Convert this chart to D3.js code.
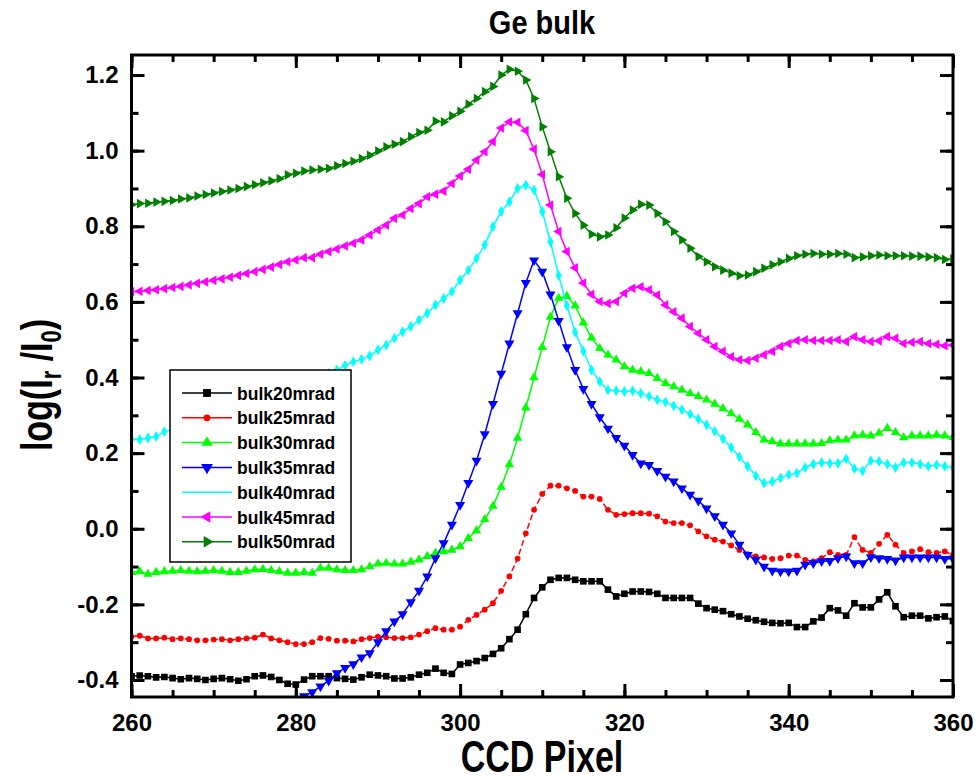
<!DOCTYPE html>
<html>
<head>
<meta charset="utf-8">
<script src="https://cdn.jsdelivr.net/npm/d3@7"></script>
<style>
  body { margin: 0; background: #fff; }
  text { font-family: "Liberation Sans", Arial, sans-serif; font-weight: bold; }
</style>
</head>
<body>
<svg id="chart" width="980" height="782"></svg>
<script>
// CCD pixel positions, one reading per pixel
const pixels = d3.range(260, 361);

const bulk20 = [
  -0.39, -0.388, -0.39, -0.393, -0.392, -0.395, -0.398, -0.395, -0.397, -0.4,
  -0.397, -0.395, -0.398, -0.402, -0.398, -0.39, -0.388, -0.392, -0.4, -0.41,
  -0.412, -0.399, -0.39, -0.39, -0.39, -0.395, -0.397, -0.399, -0.393, -0.386,
  -0.388, -0.39, -0.396, -0.396, -0.393, -0.386, -0.381, -0.37, -0.381, -0.384,
  -0.359, -0.355, -0.35, -0.342, -0.331, -0.316, -0.292, -0.267, -0.226, -0.183,
  -0.155, -0.135, -0.13, -0.13, -0.135, -0.139, -0.139, -0.139, -0.161, -0.179,
  -0.172, -0.166, -0.166, -0.167, -0.172, -0.183, -0.183, -0.183, -0.183, -0.198,
  -0.21, -0.214, -0.218, -0.226, -0.232, -0.238, -0.242, -0.246, -0.249, -0.25,
  -0.249, -0.26, -0.26, -0.245, -0.235, -0.21, -0.216, -0.23, -0.197, -0.208,
  -0.208, -0.187, -0.168, -0.205, -0.234, -0.23, -0.23, -0.237, -0.234, -0.232,
  -0.244
];
const bulk25 = [
  -0.285, -0.283, -0.29, -0.29, -0.288, -0.292, -0.29, -0.292, -0.295, -0.295,
  -0.293, -0.292, -0.295, -0.292, -0.29, -0.288, -0.28, -0.29, -0.295, -0.3,
  -0.305, -0.305, -0.3, -0.289, -0.291, -0.296, -0.296, -0.298, -0.292, -0.289,
  -0.285, -0.287, -0.289, -0.289, -0.287, -0.28, -0.271, -0.263, -0.267, -0.267,
  -0.259, -0.241, -0.228, -0.214, -0.197, -0.164, -0.126, -0.079, -0.012, 0.05,
  0.092, 0.114, 0.114, 0.107, 0.1, 0.085, 0.085, 0.079, 0.05, 0.037,
  0.039, 0.041, 0.041, 0.04, 0.033, 0.019, 0.015, 0.015, 0.009, -0.007,
  -0.02, -0.029, -0.034, -0.044, -0.056, -0.067, -0.073, -0.076, -0.08, -0.078,
  -0.071, -0.071, -0.082, -0.086, -0.078, -0.062, -0.069, -0.069, -0.022, -0.056,
  -0.064, -0.04, -0.016, -0.042, -0.064, -0.06, -0.054, -0.062, -0.064, -0.06,
  -0.069
];
const bulk30 = [
  -0.115, -0.113, -0.12, -0.115, -0.113, -0.112, -0.11, -0.112, -0.113, -0.112,
  -0.11, -0.112, -0.115, -0.115, -0.112, -0.108, -0.107, -0.11, -0.113, -0.117,
  -0.117, -0.115, -0.117, -0.104, -0.104, -0.108, -0.11, -0.11, -0.108, -0.1,
  -0.093, -0.091, -0.093, -0.093, -0.088, -0.082, -0.073, -0.064, -0.06, -0.056,
  -0.047, -0.025, -0.005, 0.025, 0.06, 0.11, 0.17, 0.24, 0.32, 0.4,
  0.48, 0.56, 0.61, 0.615, 0.59, 0.545, 0.505, 0.477, 0.46, 0.447,
  0.429, 0.42, 0.416, 0.411, 0.398, 0.385, 0.376, 0.367, 0.358, 0.35,
  0.341, 0.33, 0.318, 0.305, 0.29, 0.275, 0.255, 0.235, 0.231, 0.225,
  0.225, 0.225, 0.225, 0.225, 0.226, 0.233, 0.235, 0.235, 0.246, 0.248,
  0.246, 0.253, 0.266, 0.255, 0.241, 0.246, 0.246, 0.246, 0.248, 0.246,
  0.242
];
const bulk35 = [
  null, null, null, null, null, null, null, null, null, null,
  null, null, null, null, null, null, null, null, null, null,
  -0.452, -0.443, -0.432, -0.417, -0.402, -0.382, -0.368, -0.358, -0.34, -0.329,
  -0.3, -0.271, -0.245, -0.226, -0.194, -0.164, -0.126, -0.078, -0.038, 0.011,
  0.063, 0.121, 0.18, 0.25, 0.33, 0.41, 0.49, 0.57, 0.65, 0.71,
  0.68, 0.62, 0.55, 0.48, 0.42, 0.37, 0.33, 0.295, 0.265, 0.24,
  0.22, 0.195, 0.173, 0.169, 0.153, 0.138, 0.125, 0.107, 0.09, 0.074,
  0.054, 0.033, 0.011, -0.012, -0.042, -0.069, -0.082, -0.1, -0.111, -0.113,
  -0.113, -0.111, -0.095, -0.091, -0.086, -0.085, -0.078, -0.073, -0.091, -0.091,
  -0.075, -0.078, -0.08, -0.084, -0.076, -0.076, -0.076, -0.076, -0.076, -0.08,
  -0.079
];
const bulk40 = [
  0.236, 0.236, 0.24, 0.244, 0.257, 0.262, 0.27, 0.277, 0.284, 0.291,
  0.298, 0.305, 0.312, 0.32, 0.328, 0.336, 0.344, 0.352, 0.36, 0.368,
  0.377, 0.386, 0.395, 0.403, 0.411, 0.42, 0.432, 0.442, 0.448, 0.457,
  0.473, 0.486, 0.504, 0.521, 0.535, 0.552, 0.57, 0.592, 0.609, 0.627,
  0.658, 0.684, 0.715, 0.751, 0.799, 0.839, 0.865, 0.9, 0.909, 0.896,
  0.839, 0.759, 0.67, 0.59, 0.52, 0.47, 0.42, 0.389, 0.367, 0.365,
  0.363, 0.365, 0.358, 0.35, 0.341, 0.335, 0.325, 0.315, 0.303, 0.29,
  0.275, 0.258, 0.238, 0.215, 0.19, 0.165, 0.14, 0.121, 0.125, 0.134,
  0.143, 0.147, 0.162, 0.171, 0.175, 0.173, 0.173, 0.185, 0.159, 0.153,
  0.18, 0.178, 0.171, 0.162, 0.175, 0.175, 0.171, 0.165, 0.169, 0.165,
  0.162
];
const bulk45 = [
  0.627, 0.628, 0.63, 0.632, 0.635, 0.638, 0.641, 0.645, 0.649, 0.653,
  0.657, 0.661, 0.665, 0.67, 0.675, 0.68, 0.686, 0.692, 0.699, 0.706,
  0.711, 0.717, 0.717, 0.726, 0.733, 0.74, 0.748, 0.755, 0.764, 0.777,
  0.79, 0.803, 0.821, 0.83, 0.847, 0.86, 0.878, 0.885, 0.893, 0.913,
  0.933, 0.951, 0.975, 0.997, 1.024, 1.06, 1.076, 1.075, 1.053, 1.004,
  0.937, 0.856, 0.786, 0.733, 0.69, 0.65, 0.62, 0.601, 0.596, 0.601,
  0.623, 0.636, 0.64, 0.632, 0.618, 0.592, 0.574, 0.557, 0.535, 0.517,
  0.5, 0.482, 0.469, 0.455, 0.447, 0.445, 0.451, 0.46, 0.469, 0.482,
  0.49, 0.498, 0.5, 0.498, 0.498, 0.498, 0.5, 0.495, 0.508, 0.5,
  0.495, 0.497, 0.508, 0.504, 0.49, 0.493, 0.495, 0.49, 0.488, 0.484,
  0.486
];
const bulk50 = [
  0.857, 0.86, 0.861, 0.864, 0.866, 0.868, 0.872, 0.875, 0.88, 0.884,
  0.888, 0.892, 0.896, 0.9, 0.905, 0.91, 0.915, 0.92, 0.926, 0.936,
  0.94, 0.946, 0.949, 0.951, 0.953, 0.96, 0.966, 0.972, 0.979, 0.988,
  0.999, 1.01, 1.017, 1.024, 1.037, 1.048, 1.054, 1.078, 1.076, 1.092,
  1.104, 1.123, 1.138, 1.156, 1.17, 1.2, 1.215, 1.21, 1.187, 1.138,
  1.063, 0.997, 0.931, 0.874, 0.834, 0.803, 0.779, 0.772, 0.777, 0.796,
  0.822, 0.843, 0.858, 0.856, 0.834, 0.812, 0.786, 0.764, 0.742, 0.72,
  0.706, 0.693, 0.684, 0.676, 0.669, 0.671, 0.68, 0.689, 0.698, 0.706,
  0.715, 0.722, 0.726, 0.728, 0.726, 0.726, 0.728, 0.726, 0.717, 0.719,
  0.722, 0.724, 0.722, 0.722, 0.722, 0.721, 0.721, 0.719, 0.717, 0.712,
  0.714
];

const seriesNames = ["bulk20mrad", "bulk25mrad", "bulk30mrad", "bulk35mrad", "bulk40mrad", "bulk45mrad", "bulk50mrad"];
const seriesValues = [bulk20, bulk25, bulk30, bulk35, bulk40, bulk45, bulk50];
const xTicks = [260, 280, 300, 320, 340, 360];
const yTicks = [-0.4, -0.2, 0.0, 0.2, 0.4, 0.6, 0.8, 1.0, 1.2];

// look of each series: colour, symbol, rotation, symbol area, dash
const styles = [
  {color: "#000000", shape: d3.symbolSquare,   rot: 0,   size: 44, dash: null},
  {color: "#ff0000", shape: d3.symbolCircle,   rot: 0,   size: 26, dash: "6,3"},
  {color: "#00ff00", shape: d3.symbolTriangle, rot: 0,   size: 38, dash: null},
  {color: "#0000ff", shape: d3.symbolTriangle, rot: 180, size: 44, dash: null},
  {color: "#00ffff", shape: d3.symbolDiamond,  rot: 0,   size: 34, dash: null},
  {color: "#ff00ff", shape: d3.symbolTriangle, rot: -90, size: 40, dash: null},
  {color: "#008000", shape: d3.symbolTriangle, rot: 90,  size: 40, dash: null}
];

const svg = d3.select("#chart");
const plotLeft = 131.5, plotRight = 953, plotTop = 55, plotBottom = 697;

const x = d3.scaleLinear().domain([260, 360]).range([plotLeft, plotRight]);
const y = d3.scaleLinear().domain([-0.445, 1.253]).range([plotBottom, plotTop]);

svg.append("defs").append("clipPath").attr("id", "plotclip")
  .append("rect")
  .attr("x", plotLeft).attr("y", plotTop)
  .attr("width", plotRight - plotLeft).attr("height", plotBottom - plotTop);

// data
const plot = svg.append("g").attr("clip-path", "url(#plotclip)");

seriesValues.forEach((vals, i) => {
  const st = styles[i];
  const pts = pixels.map((p, j) => ({p: p, v: vals[j]})).filter(d => d.v !== null);
  const line = d3.line().x(d => x(d.p)).y(d => y(d.v));
  const g = plot.append("g");
  g.append("path")
    .datum(pts)
    .attr("d", line)
    .attr("fill", "none")
    .attr("stroke", st.color)
    .attr("stroke-width", 1.5)
    .attr("stroke-dasharray", st.dash);
  g.selectAll("path.sym")
    .data(pts)
    .enter().append("path")
    .attr("class", "sym")
    .attr("d", d3.symbol().type(st.shape).size(st.size))
    .attr("transform", d => `translate(${x(d.p)},${y(d.v)}) rotate(${st.rot})`)
    .attr("fill", st.color);
});

// axes with inward ticks on all four sides
function styleAxis(g) {
  g.select(".domain").remove();
  g.selectAll(".tick line").attr("stroke", "#000").attr("stroke-width", 3);
  g.selectAll(".tick text").attr("fill", "#000").style("font-size", "24px");
}
const xMinor = d3.range(260, 361, 5);
const yMinor = d3.range(-4, 13).map(d => d / 10);

svg.append("g").attr("transform", `translate(0,${plotBottom})`)
  .call(d3.axisBottom(x).tickValues(xMinor).tickSize(-7).tickFormat(""))
  .call(styleAxis);
svg.append("g").attr("transform", `translate(0,${plotBottom})`)
  .call(d3.axisBottom(x).tickValues(xTicks).tickSize(-13).tickPadding(17).tickFormat(d3.format("d")))
  .call(styleAxis);
svg.append("g").attr("transform", `translate(0,${plotTop})`)
  .call(d3.axisTop(x).tickValues(xMinor).tickSize(-7).tickFormat(""))
  .call(styleAxis);
svg.append("g").attr("transform", `translate(0,${plotTop})`)
  .call(d3.axisTop(x).tickValues(xTicks).tickSize(-13).tickFormat(""))
  .call(styleAxis);

svg.append("g").attr("transform", `translate(${plotLeft},0)`)
  .call(d3.axisLeft(y).tickValues(yMinor).tickSize(-7).tickFormat(""))
  .call(styleAxis);
svg.append("g").attr("transform", `translate(${plotLeft},0)`)
  .call(d3.axisLeft(y).tickValues(yTicks).tickSize(-13).tickPadding(13).tickFormat(d => d.toFixed(1)))
  .call(styleAxis);
svg.append("g").attr("transform", `translate(${plotRight},0)`)
  .call(d3.axisRight(y).tickValues(yMinor).tickSize(-7).tickFormat(""))
  .call(styleAxis);
svg.append("g").attr("transform", `translate(${plotRight},0)`)
  .call(d3.axisRight(y).tickValues(yTicks).tickSize(-13).tickFormat(""))
  .call(styleAxis);

svg.append("rect")
  .attr("x", plotLeft).attr("y", plotTop)
  .attr("width", plotRight - plotLeft).attr("height", plotBottom - plotTop)
  .attr("fill", "none").attr("stroke", "#000").attr("stroke-width", 3);

// titles (the originals are drawn tall and narrow)
svg.append("text")
  .attr("transform", "translate(542,34) scale(1,1.12)")
  .attr("text-anchor", "middle")
  .style("font-size", "29px")
  .text("Ge bulk");

svg.append("text")
  .attr("transform", "translate(542,772) scale(1,1.3)")
  .attr("text-anchor", "middle")
  .style("font-size", "34px")
  .text("CCD Pixel");

const ylab = svg.append("text")
  .attr("transform", "translate(52,385) rotate(-90) scale(1,1.3)")
  .attr("text-anchor", "middle")
  .style("font-size", "34px");
ylab.append("tspan").text("log(I");
ylab.append("tspan").attr("dy", 7).style("font-size", "22px").text("r");
ylab.append("tspan").attr("dy", -7).text(" /I");
ylab.append("tspan").attr("dy", 7).style("font-size", "22px").text("0");
ylab.append("tspan").attr("dy", -7).text(")");

// legend
const legend = svg.append("g");
legend.append("rect")
  .attr("x", 170).attr("y", 370)
  .attr("width", 181).attr("height", 192)
  .attr("fill", "#fff").attr("stroke", "#000").attr("stroke-width", 1.5);

seriesNames.forEach((name, i) => {
  const st = styles[i];
  const ly = 393 + i * 24.8;
  legend.append("line")
    .attr("x1", 182).attr("x2", 232)
    .attr("y1", ly).attr("y2", ly)
    .attr("stroke", st.color).attr("stroke-width", 1.5);
  if (i !== 4) {
    legend.append("path")
      .attr("d", d3.symbol().type(st.shape).size(st.size * 1.4))
      .attr("transform", `translate(207,${ly}) rotate(${st.rot})`)
      .attr("fill", st.color);
  }
  legend.append("text")
    .attr("x", 237).attr("y", ly + 6.5)
    .style("font-size", "17.5px")
    .text(name);
});
</script>
</body>
</html>
